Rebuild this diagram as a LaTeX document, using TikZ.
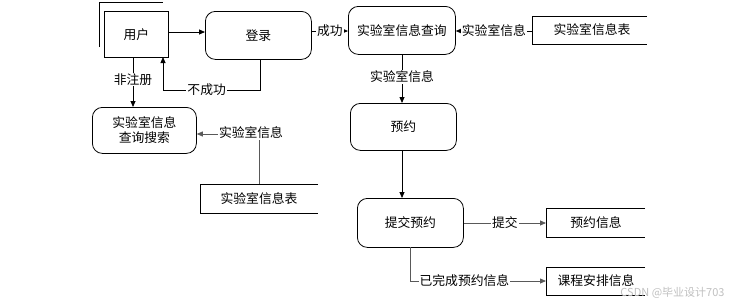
\documentclass[tikz,border=0pt]{standalone}
\usepackage{fontspec}
\setmainfont{Noto Sans CJK SC}
\usetikzlibrary{arrows.meta}
\begin{document}
\begin{tikzpicture}[x=1pt,y=-1pt,
  every node/.style={font=\fontsize{12.8}{15}\selectfont},
  proc/.style={draw,rounded corners=10pt,line width=0.8pt,anchor=north west,inner sep=0pt},
  ent/.style={draw,line width=0.8pt,anchor=north west,inner sep=0pt},
  lbl/.style={fill=white,inner sep=1pt},
  arr/.style={line width=0.8pt,-{Triangle[length=6pt,width=5pt]}},
  ln/.style={line width=0.8pt},
  gr/.style={draw=black!65}
]
\useasboundingbox (0,0) rectangle (736,306);
% user
\node[ent,minimum width=64pt,minimum height=46pt] (user) at (104,11) {用户};
\draw[ln] (99,47) -- (99,2) -- (163,2);
% login
\node[proc,minimum width=106pt,minimum height=48pt] (login) at (205,11) {登录};
% query
\node[proc,minimum width=107pt,minimum height=48pt] (query) at (348,6) {实验室信息查询};
% search
\node[proc,minimum width=104pt,minimum height=46pt,align=center] (search) at (92,107) {实验室信息\\查询搜索};
% reserve
\node[proc,minimum width=106pt,minimum height=47pt] (reserve) at (350,103) {预约};
% submit
\node[proc,minimum width=106pt,minimum height=49pt] (submit) at (357,198) {提交预约};
% data stores
\coordinate (t1a) at (532,16);
\draw[ln] (647,16) -- (532,16) -- (532,44) -- (647,44);
\node (t1) at (592,30) {实验室信息表};
\draw[ln] (318,184) -- (200,184) -- (200,213) -- (318,213);
\node (t2) at (259,198.5) {实验室信息表};
\draw[ln] (645,208) -- (546,208) -- (546,237) -- (645,237);
\node (t3) at (596,222.5) {预约信息};
\draw[ln] (645,267) -- (546,267) -- (546,295) -- (645,295);
\node (t4) at (596,281) {课程安排信息};
\coordinate (t2top) at (259,184);
\coordinate (t3w) at (546,223);
\coordinate (t4w) at (546,281);
% connectors
\draw[arr] (user.east |- 0,32) -- (login.west |- 0,32);
\draw[arr] (login.east |- 0,31) -- node[lbl]{成功} (query.west |- 0,31);
\draw[arr] (t1a |- 0,31) -- node[lbl]{实验室信息} (query.east |- 0,31);
\draw[arr] (260,59) -- (260,90) -- node[lbl,pos=0.55]{不成功} (163,90) -- (163,57);
\draw[arr] (133,57) -- node[lbl,pos=0.45]{非注册} (133,107);
\draw[arr,gr] (t2top) -- (259,134) -- (search.east |- 0,134);
\node[lbl] (l5) at (251,133) {实验室信息};
\draw[arr] (402,54) -- node[lbl,pos=0.47]{实验室信息} (reserve.north -| 402,0);
\draw[arr] (402,150) -- (submit.north -| 402,0);
\draw[arr,gr] (submit.east |- 0,223) -- node[lbl,pos=0.5,text=black]{提交} (t3w);
\draw[arr,gr] (410,247) -- (410,281) -- node[lbl,pos=0.4,text=black]{已完成预约信息} (t4w);
% watermark
\node[text=black!25,font=\fontsize{11}{13}\selectfont,anchor=east] (wm) at (728,293) {CSDN @毕业设计703};
\end{tikzpicture}
\end{document}
